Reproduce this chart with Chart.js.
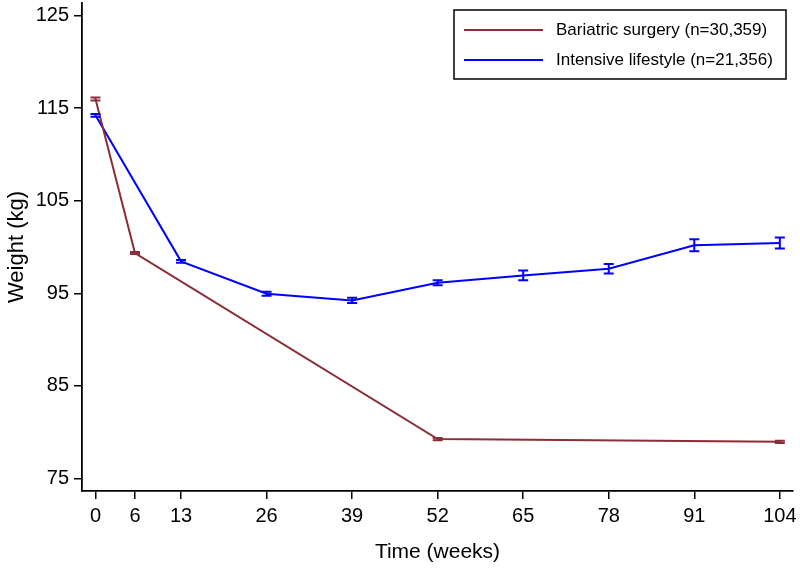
<!DOCTYPE html>
<html>
<head>
<meta charset="utf-8">
<script src="https://cdn.jsdelivr.net/npm/chart.js@4.4.0/dist/chart.umd.min.js"></script>
<style>
html,body{margin:0;padding:0;background:#fff;}
#wrap{width:800px;height:569px;position:relative;}
</style>
</head>
<body>
<div id="wrap"><canvas id="c" width="800" height="569"></canvas></div>
<script>
// ---- data ----
const xTickValues = [0, 6, 13, 26, 39, 52, 65, 78, 91, 104];
const yTickValues = [75, 85, 95, 105, 115, 125];

const surgeryWeeks = [0, 6, 52, 104];
const surgeryWeight = [116.0, 99.35, 79.24, 78.95];
const surgeryErr = [0.16, 0.1, 0.12, 0.12];

const lifestyleWeeks = [0, 13, 26, 39, 52, 65, 78, 91, 104];
const lifestyleWeight = [114.23, 98.45, 94.95, 94.23, 96.14, 96.93, 97.65, 100.18, 100.43];
const lifestyleErr = [0.15, 0.15, 0.22, 0.29, 0.27, 0.52, 0.52, 0.65, 0.6];

const seriesLabels = ['Bariatric surgery (n=30,359)', 'Intensive lifestyle (n=21,356)'];
const seriesColors = ['#8B2E38', '#0000FF'];

const mk = (xs, ys) => xs.map((x, i) => ({x: x, y: ys[i]}));

const errorBars = {
  id: 'errorBars',
  afterDatasetsDraw(chart) {
    const {ctx, scales: {x, y}} = chart;
    const errs = [surgeryErr, lifestyleErr];
    chart.data.datasets.forEach((ds, di) => {
      ctx.save();
      ctx.strokeStyle = ds.borderColor;
      ctx.lineWidth = 2;
      ds.data.forEach((p, i) => {
        const e = errs[di][i];
        const px = x.getPixelForValue(p.x);
        const y1 = y.getPixelForValue(p.y + e);
        const y2 = y.getPixelForValue(p.y - e);
        ctx.beginPath();
        ctx.moveTo(px, y1); ctx.lineTo(px, y2);
        ctx.moveTo(px - 5, y1); ctx.lineTo(px + 5, y1);
        ctx.moveTo(px - 5, y2); ctx.lineTo(px + 5, y2);
        ctx.stroke();
      });
      ctx.restore();
    });
  }
};

const legendBox = {
  id: 'legendBox',
  afterDraw(chart) {
    const ctx = chart.ctx;
    const bx = 454, by = 10, bw = 332, bh = 69;
    ctx.save();
    ctx.strokeStyle = '#000';
    ctx.lineWidth = 1.5;
    ctx.strokeRect(bx, by, bw, bh);
    ctx.font = '17px "Liberation Sans", Arial, sans-serif';
    ctx.textBaseline = 'middle';
    ctx.fillStyle = '#000';
    chart.data.datasets.forEach((ds, i) => {
      const yy = by + 20 + i * 30;
      ctx.strokeStyle = ds.borderColor;
      ctx.lineWidth = 2;
      ctx.beginPath();
      ctx.moveTo(bx + 10, yy); ctx.lineTo(bx + 89, yy);
      ctx.stroke();
      ctx.fillText(ds.label, bx + 102, yy);
    });
    ctx.restore();
  }
};

new Chart(document.getElementById('c'), {
  type: 'line',
  data: {
    datasets: [
      {label: seriesLabels[0], data: mk(surgeryWeeks, surgeryWeight), borderColor: seriesColors[0], borderWidth: 2, pointRadius: 0, tension: 0, fill: false},
      {label: seriesLabels[1], data: mk(lifestyleWeeks, lifestyleWeight), borderColor: seriesColors[1], borderWidth: 2, pointRadius: 0, tension: 0, fill: false}
    ]
  },
  options: {
    responsive: false,
    animation: false,
    layout: {padding: {top: 3, right: 7, left: 0, bottom: 0}},
    plugins: {legend: {display: false}, tooltip: {enabled: false}},
    scales: {
      x: {
        type: 'linear',
        min: -2.05, max: 106,
        afterBuildTicks: s => { s.ticks = xTickValues.map(v => ({value: v})); },
        afterFit: s => { s.height = 78; s.paddingLeft = 0; s.paddingRight = 0; },
        grid: {drawOnChartArea: false, tickLength: 8, color: '#000', lineWidth: 1.5},
        border: {display: true, color: '#000', width: 1.8},
        ticks: {color: '#000', padding: 5, maxRotation: 0, autoSkip: false, font: {family: '"Liberation Sans", Arial', size: 20}},
        title: {display: true, text: 'Time (weeks)', color: '#000', padding: {top: 6}, font: {family: '"Liberation Sans", Arial', size: 21}}
      },
      y: {
        type: 'linear',
        min: 73.63, max: 126.37,
        afterBuildTicks: s => { s.ticks = yTickValues.map(v => ({value: v})); },
        afterFit: s => { s.width = 82; s.paddingTop = 0; s.paddingBottom = 0; },
        grid: {drawOnChartArea: false, tickLength: 8, color: '#000', lineWidth: 1.5},
        border: {display: true, color: '#000', width: 1.8},
        ticks: {color: '#000', padding: 5, font: {family: '"Liberation Sans", Arial', size: 20}},
        title: {display: true, text: 'Weight (kg)', color: '#000', padding: {bottom: 2}, font: {family: '"Liberation Sans", Arial', size: 22}}
      }
    }
  },
  plugins: [errorBars, legendBox]
});
</script>
</body>
</html>
